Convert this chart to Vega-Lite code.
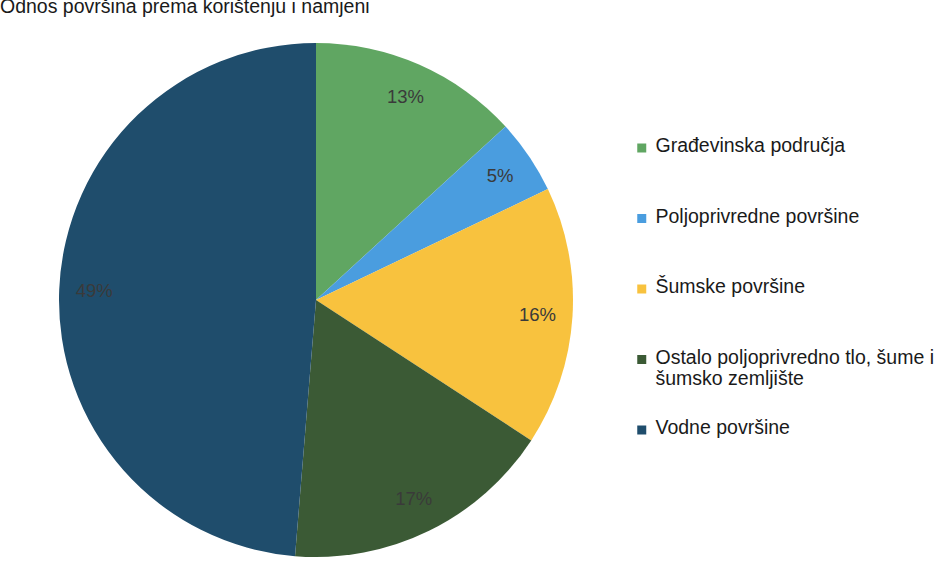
{
  "$schema": "https://vega.github.io/schema/vega-lite/v6.json",
  "autosize": {"type": "none"},
  "padding": {"left": 8, "top": 20, "right": 328, "bottom": 0},
  "width": 616,
  "height": 560,
  "background": "white",
  "title": {
    "text": "Odnos površina prema korištenju i namjeni",
    "anchor": "start",
    "frame": "group",
    "orient": "top",
    "offset": 0,
    "dx": -8,
    "dy": 12,
    "baseline": "alphabetic",
    "font": "Liberation Sans",
    "fontSize": 19.5,
    "fontWeight": "normal",
    "color": "#1a1a1a"
  },
  "data": {
    "values": [
      {"idx": 1, "kategorija": "Građevinska područja", "udio": 0.132},
      {"idx": 2, "kategorija": "Poljoprivredne površine", "udio": 0.047},
      {"idx": 3, "kategorija": "Šumske površine", "udio": 0.163},
      {"idx": 4, "kategorija": "Ostalo poljoprivredno tlo, šume i šumsko zemljište", "udio": 0.171},
      {"idx": 5, "kategorija": "Vodne površine", "udio": 0.487}
    ]
  },
  "encoding": {
    "theta": {"field": "udio", "type": "quantitative", "stack": true},
    "order": {"field": "idx", "type": "quantitative"}
  },
  "layer": [
    {
      "mark": {"type": "arc", "outerRadius": 257},
      "encoding": {
        "color": {
          "field": "kategorija",
          "type": "nominal",
          "scale": {
            "domain": ["Građevinska područja", "Poljoprivredne površine", "Šumske površine", "Ostalo poljoprivredno tlo, šume i šumsko zemljište", "Vodne površine"],
            "range": ["#60a662", "#4a9ddf", "#f8c23e", "#3b5a35", "#1f4d6c"]
          },
          "legend": {
            "title": null,
            "orient": "none",
            "legendX": 624,
            "legendY": 118,
            "padding": 0,
            "symbolType": "square",
            "symbolSize": 81,
            "symbolStrokeWidth": 0,
            "symbolOpacity": 1,
            "labelFont": "Liberation Sans",
            "labelFontSize": 19.5,
            "labelColor": "#1a1a1a",
            "labelLimit": 400,
            "labelOffset": 4,
            "clipHeight": 20,
            "rowPadding": 29.5,
            "labelExpr": "datum.label == 'Ostalo poljoprivredno tlo, šume i šumsko zemljište' ? ['Ostalo poljoprivredno tlo, šume i', 'šumsko zemljište'] : [datum.label, '']",
            "labelBaseline": "top",
            "labelLineHeight": 23,
            "encode": {"labels": {"update": {"dy": {"value": -11}}}}
          }
        }
      }
    },
    {
      "mark": {"type": "text", "radius": 222, "font": "Liberation Sans", "fontSize": 18.5, "color": "#3a3a3a"},
      "encoding": {
        "text": {"field": "udio", "type": "quantitative", "format": ".0%"}
      }
    }
  ],
  "config": {"view": {"stroke": null}}
}
